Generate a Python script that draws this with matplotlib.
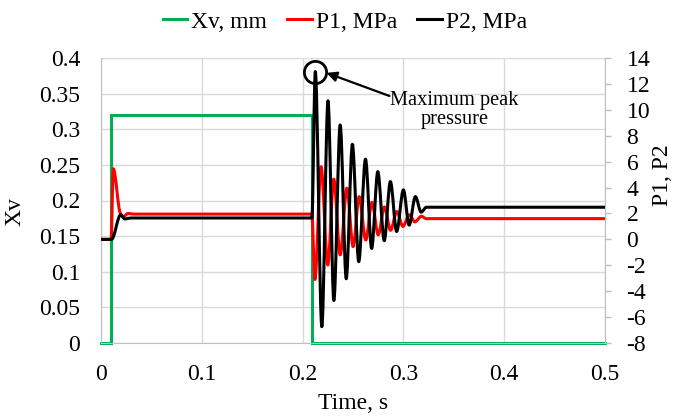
import matplotlib
matplotlib.use("Agg")
import matplotlib.pyplot as plt
from matplotlib.path import Path
from matplotlib.patches import PathPatch
from matplotlib.lines import Line2D

plt.rcParams['font.family'] = ['Liberation Serif', 'DejaVu Serif']
plt.rcParams['font.size'] = 17

# ---- data ----
xv_t = [0.0, 0.0098, 0.0098, 0.2092, 0.2092, 0.5]
xv_v = [0.0, 0.0, 0.32, 0.32, 0.0, 0.0]

p1_t = [0.0, 0.0100, 0.0122, 0.0190, 0.0220, 0.0270, 0.0320,
        0.2092, 0.2122, 0.2183, 0.2250, 0.2309, 0.2373, 0.2439, 0.2501,
        0.2561, 0.2627, 0.2688, 0.2750, 0.2812, 0.2873, 0.2934, 0.2995,
        0.3059, 0.3114, 0.3178, 0.3228, 0.5]
p1_v = [0.0, 0.0, 5.45, 2.05, 1.75, 2.0, 1.95,
        1.95, -3.1, 5.61, -1.98, 4.65, -1.2, 3.95, -0.56,
        3.3, -0.05, 2.85, 0.35, 2.5, 0.7, 2.15, 1.0,
        1.9, 1.35, 1.78, 1.6, 1.6]

p2_t = [0.0, 0.0105, 0.0195, 0.0235, 0.0300,
        0.2092, 0.2126, 0.2191, 0.2252, 0.2310, 0.2373, 0.2433, 0.2494,
        0.2557, 0.2624, 0.2685, 0.2746, 0.2810, 0.2871, 0.2933, 0.3000,
        0.3057, 0.3119, 0.3176, 0.3228, 0.5]
p2_v = [0.0, 0.0, 1.9, 1.58, 1.65,
        1.65, 12.95, -6.74, 10.7, -4.72, 8.83, -3.04, 7.34,
        -1.72, 6.19, -0.7, 5.23, -0.1, 4.46, 0.6, 3.82,
        1.1, 3.3, 2.1, 2.48, 2.48]

x_ticks = [0, 0.1, 0.2, 0.3, 0.4, 0.5]
x_labels = ['0', '0.1', '0.2', '0.3', '0.4', '0.5']
xv_ticks = [0, 0.05, 0.1, 0.15, 0.2, 0.25, 0.3, 0.35, 0.4]
xv_labels = ['0', '0.05', '0.1', '0.15', '0.2', '0.25', '0.3', '0.35', '0.4']
p_ticks = list(range(-8, 15, 2))
p_labels = [str(v) for v in p_ticks]

GREEN = '#00B050'
RED = '#FF0000'
GRID = '#D9D9D9'
SPINE = '#BFBFBF'


def smooth_path(t, v):
    """Smoothed line through the points (monotone cubic, like a spreadsheet
    'smoothed line'), rendered as Bezier segments."""
    n = len(t)
    h = [t[i + 1] - t[i] for i in range(n - 1)]
    d = [(v[i + 1] - v[i]) / h[i] for i in range(n - 1)]
    m = [0.0] * n
    for i in range(1, n - 1):
        if d[i - 1] * d[i] > 0:
            w1 = 2 * h[i] + h[i - 1]
            w2 = h[i] + 2 * h[i - 1]
            m[i] = (w1 + w2) / (w1 / d[i - 1] + w2 / d[i])
    verts = [(t[0], v[0])]
    codes = [Path.MOVETO]
    for i in range(n - 1):
        verts += [(t[i] + h[i] / 3, v[i] + m[i] * h[i] / 3),
                  (t[i + 1] - h[i] / 3, v[i + 1] - m[i + 1] * h[i] / 3),
                  (t[i + 1], v[i + 1])]
        codes += [Path.CURVE4] * 3
    return Path(verts, codes)


fig = plt.figure(figsize=(6.74, 4.16), dpi=100)
ax = fig.add_axes([101/674, 1-343/416, (605-101)/674, (343-58)/416])
ax2 = ax.twinx()
ax2.patch.set_visible(False)

LW = 2.2
ax.plot(xv_t, xv_v, color=GREEN, lw=LW, solid_joinstyle='miter', clip_on=False)
ax2.add_patch(PathPatch(smooth_path(p1_t, p1_v), fill=False, edgecolor=RED,
                        lw=LW, capstyle='butt', joinstyle='round'))
ax2.add_patch(PathPatch(smooth_path(p2_t, p2_v), fill=False, edgecolor='black',
                        lw=LW, capstyle='butt', joinstyle='round'))

ax.set_xlim(0, 0.5)
ax.set_ylim(0, 0.4)
ax2.set_ylim(-8, 14)
ax.set_xticks(x_ticks)
ax.set_xticklabels(x_labels)
ax.set_yticks(xv_ticks)
ax.set_yticklabels(xv_labels)
ax2.set_yticks(p_ticks)
ax2.set_yticklabels(p_labels)

ax.grid(True, color=GRID, lw=1)
ax.set_axisbelow(True)
ax.tick_params(axis='x', length=0, pad=15)
ax.tick_params(axis='y', length=0, pad=15)
ax2.tick_params(axis='y', length=4.5, width=1, color=SPINE, direction='out', pad=11)

for a in (ax, ax2):
    for s in a.spines.values():
        s.set_visible(False)
ax.spines['left'].set_visible(True)
ax.spines['left'].set_color(SPINE)
ax.spines['bottom'].set_visible(True)
ax.spines['bottom'].set_color(SPINE)
ax2.spines['right'].set_visible(True)
ax2.spines['right'].set_color(SPINE)

ax.set_xlabel('Time, s', labelpad=6)
ax.set_ylabel('Xv')
ax2.set_ylabel('P1, P2', rotation=90)
ax.yaxis.set_label_coords(-0.150, 0.46)
ax2.yaxis.set_label_coords(1.094, 0.59)

# annotation: circle around the max peak
i_max = p2_v.index(max(p2_v))
ax2.plot([p2_t[i_max]], [p2_v[i_max]], marker='o', ms=16, mfc='none',
         mec='black', mew=2, zorder=5)
ax2.annotate('', xy=(0.2238, 12.85), xytext=(0.2861, 11.07),
             arrowprops=dict(arrowstyle='-|>', color='black', lw=1.6,
                             mutation_scale=15, shrinkA=0, shrinkB=0))
ax2.text(0.3505, 9.95, 'Maximum peak\npressure', ha='center', va='center',
         fontsize=14.7, linespacing=1.0)

handles = [Line2D([], [], color=GREEN, lw=LW),
           Line2D([], [], color=RED, lw=LW),
           Line2D([], [], color='black', lw=LW)]
fig.legend(handles=handles, labels=['Xv, mm', 'P1, MPa', 'P2, MPa'],
           loc='center', bbox_to_anchor=(345/674, 1-22/416),
           ncol=3, frameon=False, handlelength=1.05, handletextpad=0.17,
           columnspacing=0.85, borderaxespad=0)

fig.savefig('out.png', dpi=100)
